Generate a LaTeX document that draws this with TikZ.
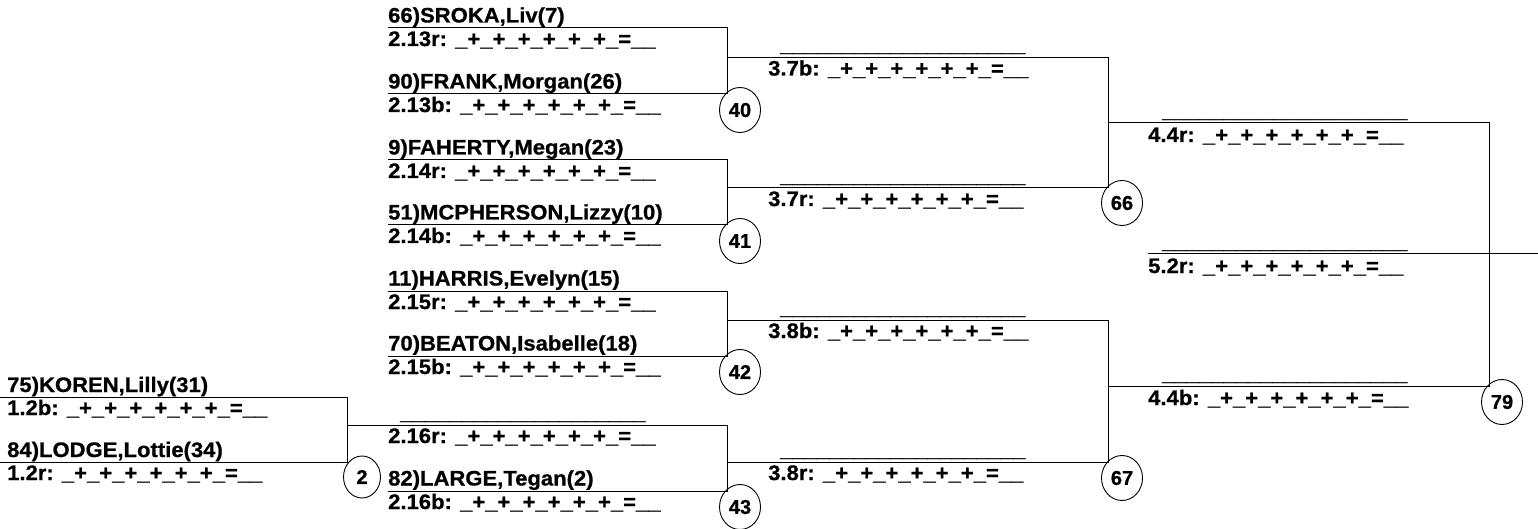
\documentclass[tikz,border=0pt]{standalone}
\usepackage{fontspec}
\setmainfont{Liberation Sans}[FakeStretch=1.05, BoldFeatures={FakeBold=0.8}]
\newfontfamily\numfont{Liberation Sans}[BoldFeatures={FakeBold=0.8}]
\usetikzlibrary{shapes.geometric}
\newcommand{\scoreline}{\_+\_+\_+\_+\_+\_+\_=\_\_}
\newcommand{\blankname}{\_\_\_\_\_\_\_\_\_\_\_\_\_\_\_\_\_\_\_\_}
\begin{document}
\begin{tikzpicture}[x=1pt,y=-1pt,
  txt/.style={anchor=base west, inner sep=0pt, font=\bfseries\fontsize{21}{21}\selectfont},
  num/.style={ellipse, draw, line width=0.9pt, minimum width=41pt, minimum height=45pt, inner sep=0pt, font=\numfont\bfseries\fontsize{20}{20}\selectfont},
  ln/.style={line width=1pt, line cap=rect}]
\useasboundingbox (0,0) rectangle (1538,529);

% ---------- Round 1 ----------
\coordinate (a0) at (0,397);   \coordinate (a1) at (347,397);
\coordinate (b0) at (0,462);   \coordinate (b1) at (347,462);
\coordinate (am) at (347,425);
\draw[ln] (a0) -- (a1) -- (b1) -- (b0);
\node[txt] (n75) at (7,392) {75)KOREN,Lilly(31)};
\node[txt] (s12b) at (7,415) {1.2b: \scoreline};
\node[txt] (n84) at (7,457) {84)LODGE,Lottie(34)};
\node[txt] (s12r) at (7,480) {1.2r: \scoreline};
\node[num, minimum width=37pt, minimum height=42pt] (c2) at (362,477) {2};

% ---------- Round 2 ----------
% 2.13
\coordinate (p0) at (388,28);  \coordinate (p1) at (727,28);
\coordinate (q0) at (388,94);  \coordinate (q1) at (727,94);
\coordinate (pm) at (727,57.5);
\draw[ln] (p0) -- (p1) -- (q1) -- (q0);
% 2.14
\coordinate (r0) at (388,160); \coordinate (r1) at (727,160);
\coordinate (s0) at (388,225); \coordinate (s1) at (727,225);
\coordinate (rm) at (727,188);
\draw[ln] (r0) -- (r1) -- (s1) -- (s0);
% 2.15
\coordinate (t0) at (388,291); \coordinate (t1) at (727,291);
\coordinate (u0) at (388,356); \coordinate (u1) at (727,356);
\coordinate (tm) at (727,320);
\draw[ln] (t0) -- (t1) -- (u1) -- (u0);
% 2.16
\coordinate (v0) at (388,425); \coordinate (v1) at (727,425);
\coordinate (w0) at (388,491); \coordinate (w1) at (727,491);
\coordinate (vm) at (727,462);
\draw[ln] (v0) -- (v1) -- (w1) -- (w0);
\draw[ln] (am) -- (v0);

\node[txt] (n66) at (388,22.5) {66)SROKA,Liv(7)};
\node[txt] (s213r) at (388,46) {2.13r: \scoreline};
\node[txt] (n90) at (388,88.5) {90)FRANK,Morgan(26)};
\node[txt] (s213b) at (388,112) {2.13b: \scoreline};
\node[txt] (n9) at (388,154.5) {9)FAHERTY,Megan(23)};
\node[txt] (s214r) at (388,178) {2.14r: \scoreline};
\node[txt] (n51) at (388,219.5) {51)MCPHERSON,Lizzy(10)};
\node[txt] (s214b) at (388,243) {2.14b: \scoreline};
\node[txt] (n11) at (388,285.5) {11)HARRIS,Evelyn(15)};
\node[txt] (s215r) at (388,309) {2.15r: \scoreline};
\node[txt] (n70) at (388,350.5) {70)BEATON,Isabelle(18)};
\node[txt] (s215b) at (388,374) {2.15b: \scoreline};
\node[txt] (bl216) at (400,419.5) {\blankname};
\node[txt] (s216r) at (388,443) {2.16r: \scoreline};
\node[txt] (n82) at (388,485.5) {82)LARGE,Tegan(2)};
\node[txt] (s216b) at (388,509) {2.16b: \scoreline};

\node[num] (c40) at (740,110) {40};
\node[num] (c41) at (740,241) {41};
\node[num] (c42) at (740,372) {42};
\node[num] (c43) at (740,507) {43};

% ---------- Round 3 ----------
\coordinate (x7b) at (1108,57.5);
\coordinate (x7r) at (1108,188);
\coordinate (x7m) at (1108,123);
\coordinate (x8b) at (1108,320);
\coordinate (x8r) at (1108,462);
\coordinate (x8m) at (1108,386);
\draw[ln] (pm) -- (x7b) -- (x7r) -- (rm);
\draw[ln] (tm) -- (x8b) -- (x8r) -- (vm);

\node[txt] (bl37b) at (780,51.5) {\blankname};
\node[txt] (s37b) at (768,75.5) {3.7b: \scoreline};
\node[txt] (bl37r) at (780,182.5) {\blankname};
\node[txt] (s37r) at (768,206) {3.7r: \scoreline};
\node[txt] (bl38b) at (780,314.5) {\blankname};
\node[txt] (s38b) at (768,338) {3.8b: \scoreline};
\node[txt] (bl38r) at (780,456.5) {\blankname};
\node[txt] (s38r) at (768,480) {3.8r: \scoreline};

\node[num] (c66) at (1122,203) {66};
\node[num] (c67) at (1122,478) {67};

% ---------- Round 4 / 5 ----------
\coordinate (y4r) at (1489,123);
\coordinate (y4b) at (1489,386);
\draw[ln] (x7m) -- (y4r) -- (y4b) -- (x8m);
\coordinate (z0) at (1148,254);
\coordinate (z1) at (1538,254);
\draw[ln] (z0) -- (z1);

\node[txt] (bl44r) at (1162,117.5) {\blankname};
\node[txt] (s44r) at (1148,142) {4.4r: \scoreline};
\node[txt] (bl52r) at (1162,248.5) {\blankname};
\node[txt] (s52r) at (1148,273) {5.2r: \scoreline};
\node[txt] (bl44b) at (1162,380.5) {\blankname};
\node[txt] (s44b) at (1148,405) {4.4b: \scoreline};

\node[num] (c79) at (1502,402) {79};
\end{tikzpicture}
\end{document}
